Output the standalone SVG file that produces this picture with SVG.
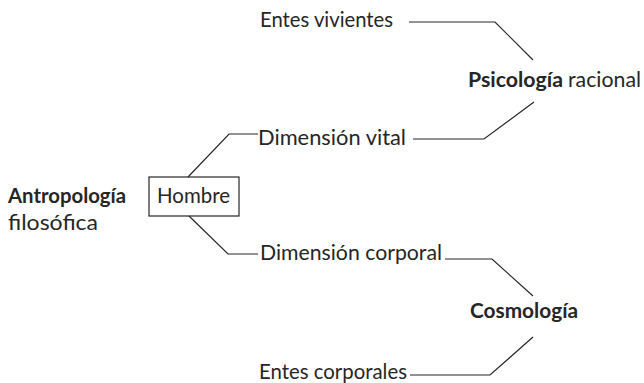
<svg xmlns="http://www.w3.org/2000/svg" width="644" height="383" viewBox="0 0 644 383">
<style>
.t{font-family:Lato,"Liberation Sans",sans-serif;font-size:21px;fill:#262626}
.b{font-weight:bold}
.c{fill:none;stroke:#262626;stroke-width:1.2}
</style>
<rect width="644" height="383" fill="#fff"/>
<g id="connectors">
<path class="c" d="M409,22 H495 L533,60"/>
<path class="c" d="M534,102 L484,139 H413"/>
<path class="c" d="M258,134 H229 L188,177"/>
<path class="c" d="M189,216 L228,254 H258"/>
<path class="c" d="M445,259 H492 L533,296"/>
<path class="c" d="M533,337 L490,375 H410"/>
</g>
<g id="entes-vivientes"><text class="t" x="260" y="27" textLength="133" lengthAdjust="spacingAndGlyphs">Entes vivientes</text></g>
<g id="psicologia"><text class="t b" x="468" y="87" textLength="95" lengthAdjust="spacingAndGlyphs">Psicología</text><text class="t" x="568" y="87" textLength="73" lengthAdjust="spacingAndGlyphs">racional</text></g>
<g id="dimension-vital"><text class="t" x="258" y="145" textLength="148" lengthAdjust="spacingAndGlyphs">Dimensión vital</text></g>
<g id="hombre"><rect x="149" y="177" width="90" height="39" fill="none" stroke="#262626" stroke-width="1.2"/><text class="t" x="157" y="203" textLength="73" lengthAdjust="spacingAndGlyphs">Hombre</text></g>
<g id="antropologia"><text class="t b" x="8" y="203" textLength="118" lengthAdjust="spacingAndGlyphs">Antropología</text><text class="t" x="8" y="230" textLength="90" lengthAdjust="spacingAndGlyphs">filosófica</text></g>
<g id="dimension-corporal"><text class="t" x="260" y="260" textLength="182" lengthAdjust="spacingAndGlyphs">Dimensión corporal</text></g>
<g id="cosmologia"><text class="t b" x="470" y="318" textLength="108" lengthAdjust="spacingAndGlyphs">Cosmología</text></g>
<g id="entes-corporales"><text class="t" x="259" y="379" textLength="148" lengthAdjust="spacingAndGlyphs">Entes corporales</text></g>
</svg>
